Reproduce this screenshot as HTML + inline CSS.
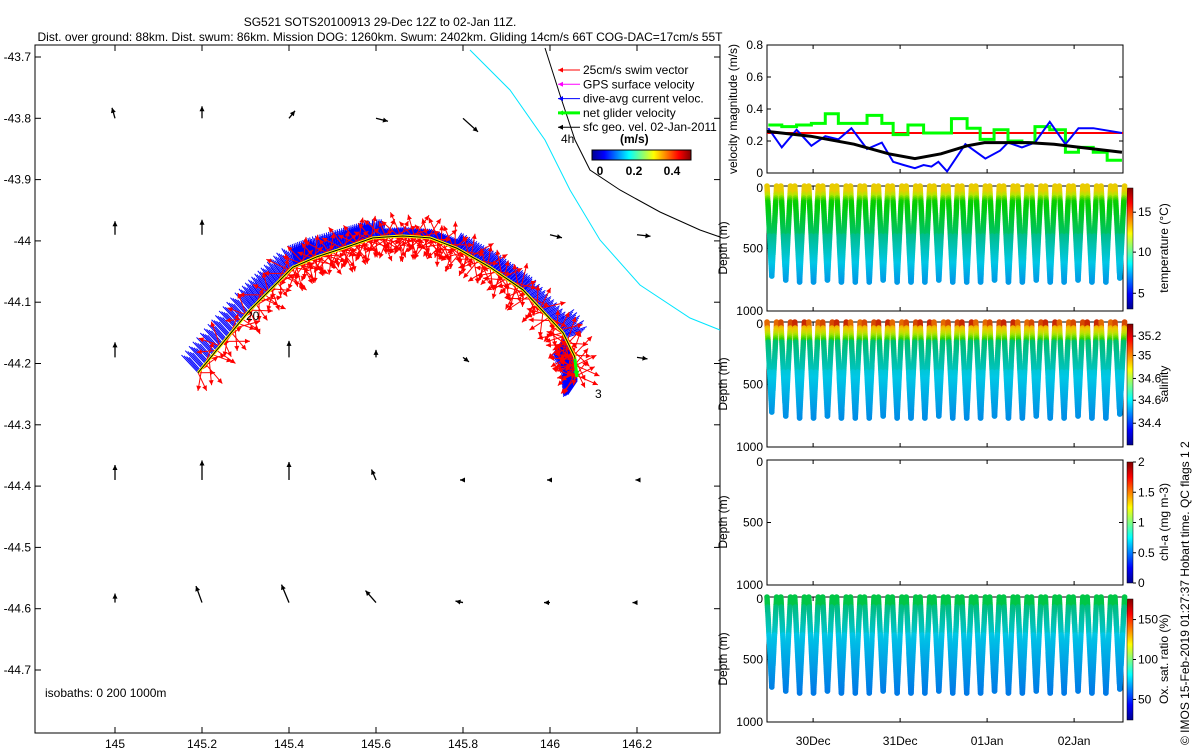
<!DOCTYPE html>
<html><head><meta charset="utf-8">
<style>
body{margin:0;background:#fff;}
svg{display:block;font-family:"Liberation Sans",sans-serif;}
</style></head>
<body>
<svg id="fig" width="1200" height="750" viewBox="0 0 1200 750">
<defs>
<linearGradient id="jetH" x1="0" x2="1" y1="0" y2="0">
<stop offset="0" stop-color="#00008f"/><stop offset="0.125" stop-color="#0000ff"/><stop offset="0.375" stop-color="#00ffff"/><stop offset="0.625" stop-color="#ffff00"/><stop offset="0.875" stop-color="#ff0000"/><stop offset="1" stop-color="#800000"/>
</linearGradient>
<linearGradient id="jetV" x1="0" x2="0" y1="1" y2="0">
<stop offset="0" stop-color="#00008f"/><stop offset="0.125" stop-color="#0000ff"/><stop offset="0.375" stop-color="#00ffff"/><stop offset="0.625" stop-color="#ffff00"/><stop offset="0.875" stop-color="#ff0000"/><stop offset="1" stop-color="#800000"/>
</linearGradient>
</defs>
<text x="380" y="26" font-size="12" text-anchor="middle">SG521 SOTS20100913 29-Dec 12Z to 02-Jan 11Z.</text>
<text x="380" y="41" font-size="12" text-anchor="middle">Dist. over ground: 88km. Dist. swum: 86km. Mission DOG: 1260km. Swum: 2402km. Gliding 14cm/s 66T COG-DAC=17cm/s 55T</text>
<g id="map"></g>
<g id="right"></g>
<text transform="translate(1189,745) rotate(-90)" font-size="12">© IMOS 15-Feb-2019 01:27:37 Hobart time. QC flags 1  2</text>
</svg>
<script>
// ---------- data ----------
const trackLon=[145.191,145.310,145.409,145.464,145.533,145.593,145.662,145.724,145.786,145.862,145.938,146.030,146.057,146.062];
const trackLat=[-44.215,-44.113,-44.043,-44.026,-44.010,-43.995,-43.992,-43.995,-44.012,-44.043,-44.080,-44.150,-44.189,-44.222];
const gridLon=[145.0,145.2,145.4,145.6,145.8,146.0,146.2];
const gridLat=[-43.80,-43.99,-44.19,-44.39,-44.59];
const gridU=[[-0.02,0,0.04,0.08,0.10,0,0],[0,0,0,0,0,0.08,0.09],[0,0,0,0,0.04,0,0.07],[0,0,0,-0.03,-0.02,-0.02,-0.01],[0,-0.04,-0.05,-0.07,-0.05,-0.04,-0.03]];
const gridV=[[0.07,0.08,0.05,-0.02,-0.09,0,0],[0.09,0.10,0,0,0,-0.02,-0.01],[0.10,0,0.11,0.05,-0.03,0,-0.01],[0.10,0.13,0.12,0.07,0,0,0],[0.06,0.11,0.12,0.08,0.01,0,0]];
const mapXTicks=[145,145.2,145.4,145.6,145.8,146,146.2];
const mapYTicks=[-43.7,-43.8,-43.9,-44,-44.1,-44.2,-44.3,-44.4,-44.5,-44.6,-44.7];

const blueT=[0.015,0.17,0.34,0.51,0.67,0.82,0.97,1.15,1.32,1.45,1.57,1.70,1.80,1.89,1.97,2.07,2.28,2.51,2.68,2.77,2.93,3.08,3.25,3.43,3.58,3.75,4.08];
const blueV=[0.28,0.16,0.27,0.17,0.23,0.21,0.28,0.15,0.19,0.07,0.05,0.03,0.05,0.04,0.07,0.01,0.18,0.09,0.14,0.19,0.16,0.19,0.32,0.18,0.28,0.28,0.25];
const blackT=[0,0.5,1.0,1.4,1.7,2.0,2.3,2.5,3.0,3.3,3.6,4.08];
const blackV=[0.26,0.23,0.18,0.12,0.09,0.12,0.17,0.19,0.19,0.18,0.16,0.13];
const greenT=[0.015,0.17,0.34,0.51,0.67,0.82,0.97,1.15,1.32,1.45,1.62,1.80,1.97,2.12,2.30,2.45,2.61,2.77,2.93,3.08,3.25,3.43,3.58,3.75,3.91,4.08];
const greenV=[0.30,0.29,0.30,0.31,0.37,0.31,0.31,0.36,0.31,0.24,0.30,0.25,0.25,0.34,0.28,0.21,0.27,0.20,0.19,0.29,0.27,0.13,0.16,0.13,0.08];
const swimV=0.25;
const diveStart=[0.0,0.16,0.32,0.48,0.64,0.80,0.96,1.12,1.28,1.44,1.60,1.76,1.92,2.08,2.24,2.40,2.56,2.72,2.88,3.04,3.20,3.36,3.52,3.68,3.84,4.00];
const diveMaxDepth=[720,760,770,780,760,780,770,780,760,770,780,770,760,780,770,780,760,780,770,760,780,770,760,780,770,740];
const dayTicks=["30Dec","31Dec","01Jan","02Jan"];
const dayTickT=[0.53,1.53,2.53,3.53];

// ---------- helpers ----------
const NS="http://www.w3.org/2000/svg";
function mk(parent,tag,attrs,text){const e=document.createElementNS(NS,tag);for(const k in attrs)e.setAttribute(k,attrs[k]);if(text!==undefined)e.textContent=text;parent.appendChild(e);return e;}
const cmapPos=[0,0.25,0.35,0.42,0.5,0.6,0.68,0.8,0.9,1];
const cmapCol=[[0,0,140],[0,100,230],[0,200,230],[0,190,140],[0,205,0],[180,230,0],[240,200,0],[235,120,0],[200,40,0],[128,0,0]];
function cmap(v){v=Math.max(0,Math.min(1,v));for(let i=1;i<cmapPos.length;i++){if(v<=cmapPos[i]){const f=(v-cmapPos[i-1])/(cmapPos[i]-cmapPos[i-1]);const a=cmapCol[i-1],b=cmapCol[i];return`rgb(${Math.round(a[0]+(b[0]-a[0])*f)},${Math.round(a[1]+(b[1]-a[1])*f)},${Math.round(a[2]+(b[2]-a[2])*f)})`;}}return'rgb(128,0,0)';}
const lerp=(a,b,f)=>a+(b-a)*Math.max(0,Math.min(1,f));

// ---------- map ----------
const map=document.getElementById('map');
const mx=lon=>115+(lon-145)*435, my=lat=>57+(-43.7-lat)*613;
const mapBox=mk(map,'rect',{x:35,y:45,width:685,height:688,fill:'none',stroke:'#000','stroke-width':1});


mapXTicks.forEach(t=>{const x=mx(t);mk(map,'line',{x1:x,x2:x,y1:733,y2:727,stroke:'#000'});mk(map,'line',{x1:x,x2:x,y1:45,y2:51,stroke:'#000'});
 const l=mk(map,'text',{x:x,y:748,'font-size':12,'text-anchor':'middle'},String(t));});
mapYTicks.forEach(t=>{const y=my(t);mk(map,'line',{x1:35,x2:41,y1:y,y2:y,stroke:'#000'});mk(map,'line',{x1:714,x2:720,y1:y,y2:y,stroke:'#000'});
 const l=mk(map,'text',{x:31,y:y+4,'font-size':12,'text-anchor':'end'},String(t));});
const cyan=[[470,50],[510,90],[545,140],[570,190],[600,240],[640,285],[690,318],[720,330]];
const iso=mk(map,'polyline',{points:cyan.map(p=>p.join(',')).join(' '),fill:'none',stroke:'#00e5ff','stroke-width':1});

const blk=[[545,48],[560,95],[575,140],[590,170],[620,190],[660,212],[700,230],[720,237]];
const iso2=mk(map,'polyline',{points:blk.map(p=>p.join(',')).join(' '),fill:'none',stroke:'#000','stroke-width':1});

function arrow(g,x,y,dx,dy,col,w,head){const x2=x+dx,y2=y+dy;mk(g,'line',{x1:x,y1:y,x2:x2,y2:y2,stroke:col,'stroke-width':w});
 const L=Math.hypot(dx,dy)||1,ux=dx/L,uy=dy/L,h=head;
 mk(g,'polygon',{points:`${x2},${y2} ${x2-h*ux+h*0.5*uy},${y2-h*uy-h*0.5*ux} ${x2-h*ux-h*0.5*uy},${y2-h*uy+h*0.5*ux}`,fill:col});}
gridLat.forEach((la,i)=>gridLon.forEach((lo,j)=>{const u=gridU[i][j],v=gridV[i][j];if(u===0&&v===0)return;
 const g=mk(map,'g',{});
 const x=mx(lo),y=my(la);arrow(g,x,y,u*150,-v*150,'#000',1.3,5);}));
// track
const pts=[];
for(let i=0;i<trackLon.length-1;i++){for(let k=0;k<14;k++){const f=k/14;pts.push([mx(trackLon[i])*(1-f)+mx(trackLon[i+1])*f,my(trackLat[i])*(1-f)+my(trackLat[i+1])*f]);}}
pts.push([mx(trackLon[trackLon.length-1]),my(trackLat[trackLat.length-1])]);
const hatch=mk(map,'g',{stroke:'#0000ff','stroke-width':1});
const reds=mk(map,'g',{});
const angs=[-40,25,-75,60,-110,10,45,-55,85,-20,135,-5,160,-150];
const N=pts.length;
pts.forEach((p,i)=>{const q=pts[Math.min(i+1,N-1)],r=pts[Math.max(i-1,0)];let dx=q[0]-r[0],dy=q[1]-r[1];const L=Math.hypot(dx,dy)||1;dx/=L;dy/=L;
 const nx=dy,ny=-dx; const f=i/N;
 let len=f<0.4?24-f*15:(f<0.6?9:(f<0.82?16:24));
 let hx=nx,hy=ny;if(f>0.85){hx=-0.5;hy=0.6;len=28;}
 for(let s=0;s<4;s++){mk(hatch,'line',{x1:p[0]+dx*s*1.2,y1:p[1]+dy*s*1.2,x2:p[0]+hx*len*(1-s*0.1)+dx*(3+s),y2:p[1]+hy*len*(1-s*0.1)+dy*(3+s)});}
 for(let s=0;s<2;s++){const base=Math.atan2(-ny,-nx)*180/Math.PI;const a=(base+angs[(i*2+s)%14])*Math.PI/180;const l=17+((i+s)%4)*3;
  arrow(reds,p[0],p[1],Math.cos(a)*l,Math.sin(a)*l,'#ff0000',1,5);}});
const tr=mk(map,'polyline',{points:pts.map(p=>p.join(',')).join(' '),fill:'none',stroke:'#ffff00','stroke-width':3});

mk(map,'polyline',{points:pts.map(p=>p.join(',')).join(' '),fill:'none',stroke:'#000','stroke-width':1});
const last=pts[N-1];arrow(map,last[0]-2,last[1]-18,2,18,'#00ff00',3,6);
[['20',246,320],['3',595,398],['4h',561,143]].forEach(t=>{const e=mk(map,'text',{x:t[1],y:t[2],'font-size':12},t[0]);});
const leg=[['25cm/s swim vector','#ff0000',1],['GPS surface velocity','#ff00ff',1],['dive-avg current veloc.','#0000ff',1],['net glider velocity','#00ff00',3],['sfc geo. vel. 02-Jan-2011','#000',1]];
leg.forEach((e,i)=>{const y=70+i*14.3;const g=mk(map,'g',{});
 arrow(g,580,y,-22,0,e[1],e[2],5);mk(g,'text',{x:583,y:y+4,'font-size':12},e[0]);});
const cb=mk(map,'rect',{x:592,y:150,width:99,height:10,fill:'url(#jetH)',stroke:'#000'});
mk(map,'text',{x:620,y:143,'font-size':12,'font-weight':'bold'},'(m/s)');
[['0',600],['0.2',634],['0.4',672]].forEach(t=>mk(map,'text',{x:t[1],y:175,'font-size':12,'font-weight':'bold','text-anchor':'middle'},t[0]));
const isoT=mk(map,'text',{x:45,y:697,'font-size':12},'isobaths: 0   200   1000m');

// ---------- right panels ----------
const R=document.getElementById('right');
const X0=767,X1=1123,tx=t=>X0+t*87;
function box(y0,y1,name){const r=mk(R,'rect',{x:X0,y:y0,width:X1-X0,height:y1-y0,fill:'none',stroke:'#000'});
 dayTickT.forEach(t=>{mk(R,'line',{x1:tx(t),x2:tx(t),y1:y1,y2:y1-4,stroke:'#000'});mk(R,'line',{x1:tx(t),x2:tx(t),y1:y0,y2:y0+4,stroke:'#000'});});}
const vy=v=>173-v*160;
box(45,173,'velocity-panel');
[0,0.2,0.4,0.6,0.8].forEach(v=>{mk(R,'line',{x1:X0,x2:X0+4,y1:vy(v),y2:vy(v),stroke:'#000'});mk(R,'line',{x1:X1,x2:X1-4,y1:vy(v),y2:vy(v),stroke:'#000'});
 const l=mk(R,'text',{x:763,y:vy(v)+4,'font-size':12,'text-anchor':'end'},String(v));});
mk(R,'text',{transform:'translate(737,109) rotate(-90)','font-size':12,'text-anchor':'middle'},'velocity magnitude (m/s)');
const sw=mk(R,'line',{x1:tx(0),x2:X1,y1:vy(swimV),y2:vy(swimV),stroke:'#ff0000','stroke-width':2});
let gp='';greenV.forEach((v,i)=>{gp+=(i?'L':'M')+tx(greenT[i])+','+vy(v)+'L'+tx(greenT[i+1])+','+vy(v);});
const gl=mk(R,'path',{d:gp,fill:'none',stroke:'#00ff00','stroke-width':3});
const bl=mk(R,'polyline',{points:blueT.map((t,i)=>tx(t)+','+vy(blueV[i])).join(' '),fill:'none',stroke:'#0000ff','stroke-width':2});
const kl=mk(R,'polyline',{points:blackT.map((t,i)=>tx(t)+','+vy(blackV[i])).join(' '),fill:'none',stroke:'#000','stroke-width':3});

const panels=[
 {y0:186,name:'temperature-panel',label:'temperature (°C)',ticks:[[15,0.8],[10,0.47],[5,0.13]],
  col:(d,k)=>d<60?0.67:(d<120?lerp(0.64,0.52,(d-60)/60):(d<400?lerp(0.51,0.44,(d-120)/280):lerp(0.42,0.30,(d-400)/380))),show:true},
 {y0:322,name:'salinity-panel',label:'salinity',ticks:[[35.2,0.9],[35,0.74],[34.6,0.55],[34.6,0.37],[34.4,0.18]],
  col:(d,k)=>d<40?0.82+((k%3)*0.04):(d<160?lerp(0.72,0.5,(d-40)/120):(d<400?lerp(0.44,0.38,(d-160)/240):lerp(0.36,0.29,(d-400)/380))),show:true},
 {y0:460,name:'chlorophyll-panel',label:'chl-a (mg m-3)',ticks:[[0,0],[0.5,0.25],[1,0.5],[1.5,0.75],[2,1]],col:null,show:false},
 {y0:597,name:'oxygen-panel',label:'Ox. sat. ratio (%)',ticks:[[150,0.83],[100,0.5],[50,0.17]],
  col:(d,k)=>d<80?0.46:(d<300?lerp(0.43,0.37,(d-80)/220):lerp(0.35,0.27,(d-300)/480)),show:true}];
panels.forEach(P=>{const y0=P.y0,y1=y0+125,dy=d=>y0+d*0.125;
 box(y0,y1,P.name);
 [0,500,1000].forEach(d=>{mk(R,'line',{x1:X0,x2:X0+4,y1:dy(d),y2:dy(d),stroke:'#000'});mk(R,'line',{x1:X1,x2:X1-4,y1:dy(d),y2:dy(d),stroke:'#000'});
  const l=mk(R,'text',{x:763,y:dy(d)+(d===0?6:4),'font-size':12,'text-anchor':'end'},String(d));});
 mk(R,'text',{transform:`translate(727,${y0+62}) rotate(-90)`,'font-size':12,'text-anchor':'middle'},'Depth (m)');
 const c=mk(R,'rect',{x:1127,y:y0+2,width:6,height:121,fill:'url(#jetV)',stroke:'#000','stroke-width':0.5});
 P.ticks.forEach(t=>{const y=y0+2+121*(1-t[1]);mk(R,'line',{x1:1133,x2:1136,y1:y,y2:y,stroke:'#000'});mk(R,'text',{x:1138,y:y+4,'font-size':12},String(t[0]));});
 mk(R,'text',{transform:`translate(1168,${y0+62}) rotate(-90)`,'font-size':12,'text-anchor':'middle'},P.label);
 if(!P.show)return;
 const g=mk(R,'g',{});
 diveStart.forEach((t,k)=>{const md=diveMaxDepth[k],half=0.055;
  for(let d=0;d<=md;d+=16){[tx(t+half*d/md),tx(t+2*half-half*d/md)].forEach(x=>{
   mk(g,'circle',{cx:x.toFixed(1),cy:dy(d).toFixed(1),r:2.8,fill:cmap(P.col(d,k))});});}});
});
dayTicks.forEach((s,i)=>{const l=mk(R,'text',{x:tx(dayTickT[i]),y:745,'font-size':12,'text-anchor':'middle'},s);});
</script>
</body></html>
